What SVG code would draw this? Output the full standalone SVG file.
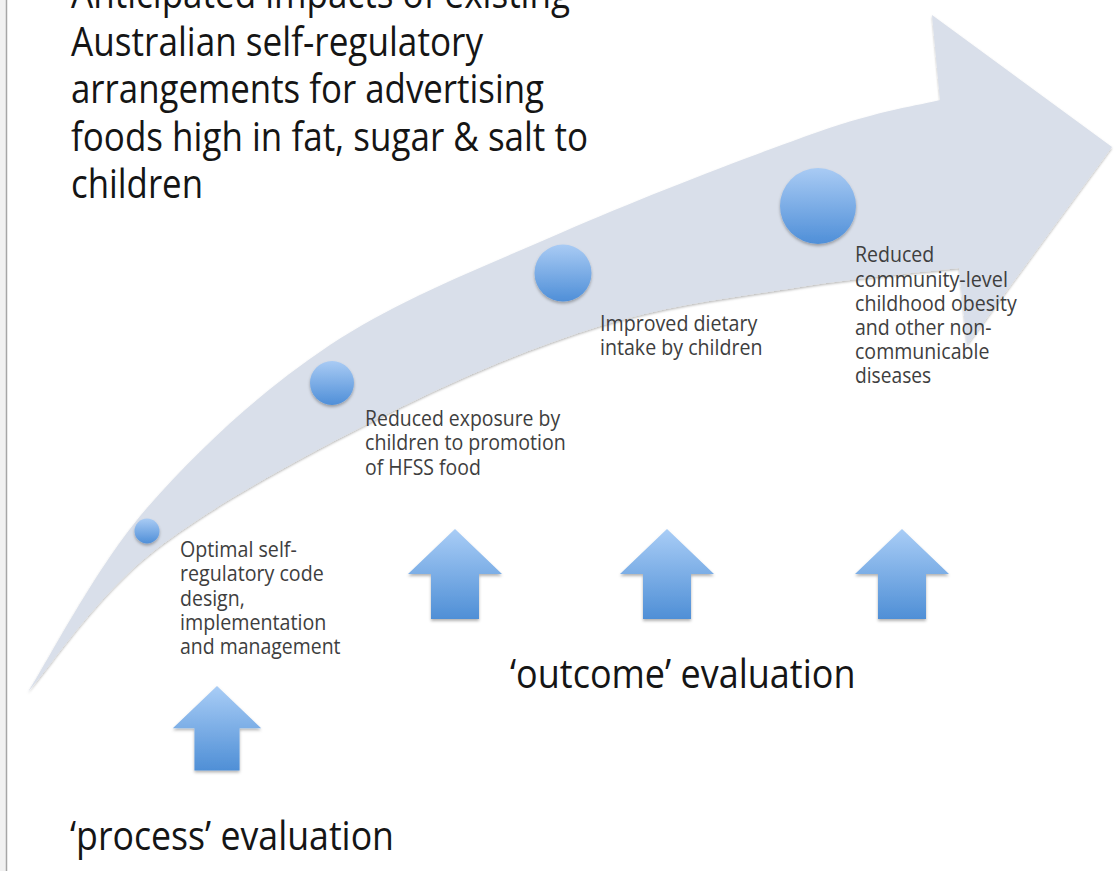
<svg xmlns="http://www.w3.org/2000/svg" width="1118" height="871" viewBox="0 0 1118 871">
  <defs>
    <style>
      .title { font-family: "Open Sans", "Noto Sans", "Liberation Sans", sans-serif; font-size: 40px; fill: #151515; }
      .label { font-family: "Open Sans", "Noto Sans", "Liberation Sans", sans-serif; font-size: 22px; fill: #3e3e3e; }
      .band { fill: #d9dfea; }
      .dot { fill: url(#dotFill); filter: url(#softShadow); }
      .up { fill: url(#upFill); filter: url(#softShadow); }
    </style>
    <linearGradient id="dotFill" x1="0" y1="0" x2="0" y2="1">
      <stop offset="0" stop-color="#a9cbf4"/>
      <stop offset="1" stop-color="#4f8fd8"/>
    </linearGradient>
    <linearGradient id="upFill" x1="0" y1="0" x2="0" y2="1">
      <stop offset="0" stop-color="#a9cdf6"/>
      <stop offset="1" stop-color="#4f8fd6"/>
    </linearGradient>
    <filter id="softShadow" x="-20%" y="-20%" width="140%" height="150%">
      <feDropShadow dx="0" dy="2" stdDeviation="1.6" flood-color="#000" flood-opacity="0.3"/>
    </filter>
    <filter id="bandShadow" x="-5%" y="-5%" width="110%" height="115%">
      <feDropShadow dx="0" dy="1.5" stdDeviation="1.2" flood-color="#000" flood-opacity="0.28"/>
    </filter>
    <!-- block up-arrow, tip at origin -->
    <path id="upArrow" d="M 0 0 L 47 45 L 24 45 L 24 90 L -24 90 L -24 45 L -47 45 Z"/>
  </defs>

  <rect x="0" y="0" width="1118" height="871" fill="#ffffff"/>
  <!-- window edge on the left -->
  <rect x="0" y="0" width="6" height="871" fill="#f1f1f1"/>
  <line x1="6.5" y1="0" x2="6.5" y2="871" stroke="#a6a6a6" stroke-width="1.5"/>

  <!-- title -->
  <g id="title" class="title">
    <text x="71" y="8" textLength="499" lengthAdjust="spacingAndGlyphs">Anticipated impacts of existing</text>
    <text x="71" y="55.5" textLength="412" lengthAdjust="spacingAndGlyphs">Australian self-regulatory</text>
    <text x="71" y="103" textLength="473" lengthAdjust="spacingAndGlyphs">arrangements for advertising</text>
    <text x="71" y="150.5" textLength="517" lengthAdjust="spacingAndGlyphs">foods high in fat, sugar &amp; salt to</text>
    <text x="71" y="198" textLength="132" lengthAdjust="spacingAndGlyphs">children</text>
  </g>

  <!-- the rising curved arrow -->
  <g id="progress-arrow">
    <path class="band" filter="url(#bandShadow)" d="M 28 692
      C 47.8 661.3 96.7 565.8 147 508
      C 197.3 450.2 260.7 391 330 345
      C 399.3 299 481.7 267.5 563 232
      C 644.3 196.5 755.2 154 818 132
      C 880.8 110 919.7 105.3 940 100
      L 932 15 L 1112 147 L 967 345 L 959 268
      C 932.5 271.2 859.8 277.3 800 287
      C 740.2 296.7 669.5 304.5 600 326
      C 530.5 347.5 457.2 378.7 383 416
      C 308.8 453.3 214.2 504 155 550
      C 95.8 596 49.2 668.3 28 692 Z"/>
  </g>

  <!-- stages along the arrow -->
  <g id="stage-1">
    <circle class="dot" cx="147" cy="531" r="12.5"/>
    <g class="label">
      <text x="180" y="557" textLength="116.8" lengthAdjust="spacingAndGlyphs">Optimal self-</text>
      <text x="180" y="581" textLength="143.7" lengthAdjust="spacingAndGlyphs">regulatory code</text>
      <text x="180" y="605.5" textLength="64.7" lengthAdjust="spacingAndGlyphs">design,</text>
      <text x="180" y="630" textLength="146.3" lengthAdjust="spacingAndGlyphs">implementation</text>
      <text x="180" y="654" textLength="160.5" lengthAdjust="spacingAndGlyphs">and management</text>
    </g>
  </g>

  <g id="stage-2">
    <circle class="dot" cx="332" cy="383" r="22"/>
    <g class="label">
      <text x="365" y="426" textLength="195.2" lengthAdjust="spacingAndGlyphs">Reduced exposure by</text>
      <text x="365" y="450" textLength="200.7" lengthAdjust="spacingAndGlyphs">children to promotion</text>
      <text x="365" y="474.5" textLength="115.8" lengthAdjust="spacingAndGlyphs">of HFSS food</text>
    </g>
  </g>

  <g id="stage-3">
    <circle class="dot" cx="563" cy="273" r="28.5"/>
    <g class="label">
      <text x="600" y="331" textLength="157.3" lengthAdjust="spacingAndGlyphs">Improved dietary</text>
      <text x="600" y="355" textLength="162.5" lengthAdjust="spacingAndGlyphs">intake by children</text>
    </g>
  </g>

  <g id="stage-4">
    <circle class="dot" cx="818" cy="206" r="38"/>
    <g class="label">
      <text x="855" y="262" textLength="79.3" lengthAdjust="spacingAndGlyphs">Reduced</text>
      <text x="855" y="286.5" textLength="152.9" lengthAdjust="spacingAndGlyphs">community-level</text>
      <text x="855" y="311" textLength="161.7" lengthAdjust="spacingAndGlyphs">childhood obesity</text>
      <text x="855" y="335" textLength="136.6" lengthAdjust="spacingAndGlyphs">and other non-</text>
      <text x="855" y="359" textLength="134.4" lengthAdjust="spacingAndGlyphs">communicable</text>
      <text x="855" y="383" textLength="76.2" lengthAdjust="spacingAndGlyphs">diseases</text>
    </g>
  </g>

  <!-- evaluation pointers -->
  <g id="connectors">
    <use href="#upArrow" class="up" transform="translate(217,686) scale(0.94)"/>
    <use href="#upArrow" class="up" transform="translate(455,529)"/>
    <use href="#upArrow" class="up" transform="translate(667,529)"/>
    <use href="#upArrow" class="up" transform="translate(902,529)"/>
  </g>

  <g id="process-evaluation" class="title">
    <text x="70" y="850" textLength="324" lengthAdjust="spacingAndGlyphs">‘process’ evaluation</text>
  </g>
  <g id="outcome-evaluation" class="title">
    <text x="510" y="688" textLength="345.5" lengthAdjust="spacingAndGlyphs">‘outcome’ evaluation</text>
  </g>
</svg>
